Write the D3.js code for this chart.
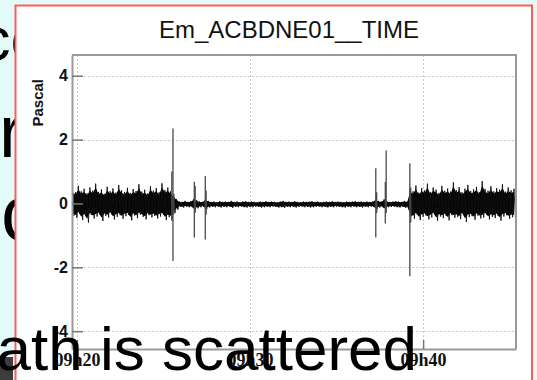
<!DOCTYPE html>
<html>
<head>
<meta charset="utf-8">
<script src="https://cdn.jsdelivr.net/npm/d3@7"></script>
<style>
body{margin:0;background:#e3fbf8;}
svg{display:block;}
.axis text{fill:#111;}
</style>
</head>
<body>
<svg></svg>
<script>
// trace is read off the picture as an envelope: one bin every 10 s
// times are seconds after 09h00
var binStart = 1185;
var binStep = 10;
var traceUpper = [
 0.42,0.35,0.55,0.38,0.46,0.32,0.5,0.4,0.62,0.36,0.44,0.3,0.52,0.38,0.47,0.34,0.58,0.41,0.36,0.49,
 0.33,0.45,0.39,0.6,0.37,0.43,0.31,0.54,0.4,0.48,0.35,0.63,0.42,0.5,0.38,
 0.26,0.14,0.06,0.05,0.08,0.05,0.07,0.14,0.1,0.06,0.05,0.12,0.08,
 0.05,0.06,0.04,0.07,0.05,0.06,0.05,0.08,0.05,0.06,
 0.04,0.06,0.07,0.05,0.06,0.05,0.04,0.06,0.05,0.07,
 0.05,0.06,0.05,0.04,0.06,0.08,0.05,0.06,0.05,0.07,
 0.05,0.04,0.06,0.05,0.06,0.07,0.05,0.06,0.04,0.05,
 0.06,0.05,0.07,0.05,0.06,0.05,0.04,0.06,0.05,0.06,
 0.07,0.05,0.06,0.05,0.06,0.05,0.06,0.12,0.08,0.06,
 0.13,0.06,0.05,0.06,0.07,0.06,0.05,0.08,0.06,
 0.45,0.38,0.56,0.34,0.48,0.41,0.62,0.36,0.5,0.43,0.33,0.55,0.4,0.47,0.37,0.66,0.42,0.51,0.35,0.46,
 0.58,0.39,0.44,0.52,0.36,0.7,0.45,0.4,0.54,0.38,0.48,0.43,0.6,0.37,0.5,0.41,0.46
];
var traceLower = [
 -0.38,-0.45,-0.33,-0.52,-0.4,-0.6,-0.36,-0.47,-0.41,-0.35,-0.55,-0.39,-0.44,-0.34,-0.5,-0.42,-0.37,-0.48,-0.4,-0.36,
 -0.53,-0.38,-0.46,-0.35,-0.42,-0.5,-0.37,-0.44,-0.39,-0.47,-0.41,-0.36,-0.52,-0.43,-0.48,
 -0.3,-0.2,-0.11,-0.13,-0.1,-0.12,-0.11,-0.2,-0.15,-0.12,-0.1,-0.18,-0.13,
 -0.11,-0.12,-0.1,-0.13,-0.11,-0.12,-0.1,-0.14,-0.11,-0.12,
 -0.1,-0.12,-0.13,-0.11,-0.12,-0.1,-0.11,-0.13,-0.12,-0.11,
 -0.12,-0.1,-0.11,-0.13,-0.12,-0.14,-0.11,-0.12,-0.1,-0.13,
 -0.11,-0.1,-0.12,-0.11,-0.13,-0.12,-0.11,-0.1,-0.12,-0.11,
 -0.13,-0.11,-0.12,-0.1,-0.11,-0.12,-0.13,-0.11,-0.12,-0.1,
 -0.12,-0.11,-0.13,-0.11,-0.12,-0.1,-0.11,-0.18,-0.13,-0.11,
 -0.19,-0.12,-0.11,-0.1,-0.12,-0.13,-0.11,-0.14,-0.12,
 -0.4,-0.48,-0.36,-0.52,-0.42,-0.38,-0.5,-0.44,-0.35,-0.55,-0.41,-0.46,-0.39,-0.53,-0.37,-0.45,-0.42,-0.49,-0.36,-0.58,
 -0.43,-0.4,-0.51,-0.38,-0.47,-0.44,-0.36,-0.5,-0.42,-0.46,-0.39,-0.54,-0.41,-0.37,-0.48,-0.43,-0.45
];
// isolated spikes
var spikeTimes   = [1529,1533,1536,1607,1610,1645,1648,2236,2239,2269,2272,2354,2357];
var spikeTops    = [1.0,2.35,0.3,0.68,0.55,0.86,0.4,1.1,0.35,0.67,1.66,1.26,0.5];
var spikeBottoms = [-0.55,-1.8,-0.35,-1.07,-0.3,-1.13,-0.35,-1.07,-0.3,-0.63,-0.3,-2.28,-0.6];

var yTicks = [-4,-2,0,2,4];
var xTickTimes = [1200,1800,2400];
var xTickLabels = ["09h20","09h30","09h40"];
var xMinorTimes = [1320,1440,1560,1680,1920,2040,2160,2280,2520,2640];

var title = "Em_ACBDNE01__TIME";
var yTitle = "Pascal";
// pieces of the slide text around the chart
var slideBehind = ["ecc","ro","co"];
var slideFront = "path is scattered";

var svg = d3.select("svg")
    .attr("width",537)
    .attr("height",380);

// slide background and the text lines that the chart covers
svg.append("rect")
    .attr("width",537).attr("height",380)
    .attr("fill","#e3fbf8");

var behind = svg.append("g")
    .attr("font-family","Liberation Sans, Arial, sans-serif")
    .attr("fill","#000");
behind.append("text").text(slideBehind[0])
    .attr("x",-55).attr("y",60).attr("font-size",62);
behind.append("text").text(slideBehind[1])
    .attr("x",-1).attr("y",157).attr("font-size",74);
behind.append("text").text(slideBehind[2])
    .attr("x",1).attr("y",240).attr("font-size",78);

// canvas of the chart
svg.append("rect")
    .attr("x",15.5).attr("y",5.5)
    .attr("width",516.5).attr("height",400)
    .attr("fill","#fff")
    .attr("stroke","#ff5b5b")
    .attr("stroke-width",2);

var plot = {left:72,right:516,top:55,bottom:349};

var xScale = d3.scaleLinear()
    .domain([1183,2722])
    .range([plot.left,plot.right]);
var yScale = d3.scaleLinear()
    .domain([-4.56,4.65])
    .range([plot.bottom,plot.top]);

// dotted grid
var grid = svg.append("g")
    .attr("stroke","#c8c8c8")
    .attr("stroke-dasharray","2,2")
    .attr("stroke-width",1);
grid.selectAll(".h")
    .data(yTicks.filter(function(v){return v!=0;}))
    .enter().append("line")
    .attr("x1",plot.left).attr("x2",plot.right)
    .attr("y1",function(v){return Math.round(yScale(v))+0.5;})
    .attr("y2",function(v){return Math.round(yScale(v))+0.5;});
grid.selectAll(".v")
    .data(xTickTimes)
    .enter().append("line")
    .attr("y1",plot.top).attr("y2",plot.bottom)
    .attr("x1",function(t){return Math.round(xScale(t))+0.5;})
    .attr("x2",function(t){return Math.round(xScale(t))+0.5;});

// the trace: solid band between the envelopes, plus a zigzag for the ragged edge
var bins = traceUpper.map(function(u,i)
{
    return {t:binStart + i*binStep, hi:u, lo:traceLower[i]};
});
var areaGenerator = d3.area()
    .x(function(b){return xScale(b.t);})
    .y0(function(b){return yScale(b.lo*0.8);})
    .y1(function(b){return yScale(b.hi*0.8);});
svg.append("path")
    .datum(bins)
    .attr("fill","#000")
    .attr("d",areaGenerator);

var points = [];
bins.forEach(function(b)
{
    points.push([b.t,b.hi]);
    points.push([b.t+binStep/2,b.lo]);
});
var lineGenerator = d3.line()
    .x(function(p){return xScale(p[0]);})
    .y(function(p){return yScale(p[1]);});
svg.append("path")
    .datum(points)
    .attr("fill","none")
    .attr("stroke","#111")
    .attr("stroke-width",0.9)
    .attr("d",lineGenerator);

svg.append("g")
    .selectAll("line")
    .data(spikeTimes)
    .enter().append("line")
    .attr("x1",function(t){return xScale(t);})
    .attr("x2",function(t){return xScale(t);})
    .attr("y1",function(t,i){return yScale(spikeTops[i]);})
    .attr("y2",function(t,i){return yScale(spikeBottoms[i]);})
    .attr("stroke","#4a4a4a")
    .attr("stroke-width",1.3);

// frame top and right
svg.append("path")
    .attr("d","M"+plot.left+","+plot.top+"H"+plot.right+"V"+plot.bottom)
    .attr("fill","none")
    .attr("stroke","#999")
    .attr("stroke-width",2);

// y axis, ticks inside
var yAxis = svg.append("g")
    .classed("axis",true)
    .attr("transform","translate("+plot.left+",0)");
yAxis.call(d3.axisLeft(yScale)
    .tickValues(d3.range(-4.5,4.6,0.5))
    .tickSize(-5).tickSizeOuter(0)
    .tickFormat(""));
yAxis.call(d3.axisLeft(yScale)
    .tickValues(yTicks)
    .tickSize(-11).tickSizeOuter(0)
    .tickPadding(4)
    .tickFormat(function(v){return String(v);}));
yAxis.selectAll("path.domain").attr("stroke","#999").attr("stroke-width",2);
yAxis.selectAll("line").attr("stroke","#777").attr("stroke-width",1.5);
yAxis.selectAll("text")
    .attr("font-family","Liberation Sans, Arial, sans-serif")
    .attr("font-weight","bold")
    .attr("font-size",16);

// x axis, ticks inside
var xAxis = svg.append("g")
    .classed("axis",true)
    .attr("transform","translate(0,"+plot.bottom+")");
xAxis.call(d3.axisBottom(xScale)
    .tickValues(xMinorTimes)
    .tickSize(-5).tickSizeOuter(0)
    .tickFormat(""));
xAxis.call(d3.axisBottom(xScale)
    .tickValues(xTickTimes)
    .tickSize(-9).tickSizeOuter(0)
    .tickPadding(4)
    .tickFormat(function(t,i){return xTickLabels[i];}));
xAxis.selectAll("path.domain").attr("stroke","#999").attr("stroke-width",2);
xAxis.selectAll("line").attr("stroke","#777").attr("stroke-width",1.5);
xAxis.selectAll("text")
    .attr("font-family","Liberation Serif, Times New Roman, serif")
    .attr("font-weight","bold")
    .attr("font-size",18)
    .attr("fill","#333");

// labels
svg.append("text")
    .text(title)
    .attr("x",289).attr("y",38)
    .attr("text-anchor","middle")
    .attr("font-family","Liberation Sans, Arial, sans-serif")
    .attr("font-size",24)
    .attr("fill","#111");
svg.append("text")
    .text(yTitle)
    .attr("transform","translate(43,79) rotate(-90)")
    .attr("text-anchor","end")
    .attr("font-family","Liberation Sans, Arial, sans-serif")
    .attr("font-weight","bold")
    .attr("font-size",15)
    .attr("fill","#111");

// slide text lying over the chart
svg.append("rect")
    .attr("x",0).attr("y",357)
    .attr("width",13).attr("height",23)
    .attr("fill","#3c3c3c");
svg.append("text")
    .text(slideFront)
    .attr("x",417).attr("y",370)
    .attr("text-anchor","end")
    .attr("font-family","Liberation Sans, Arial, sans-serif")
    .attr("font-size",62)
    .attr("fill","#000");
</script>
</body>
</html>
